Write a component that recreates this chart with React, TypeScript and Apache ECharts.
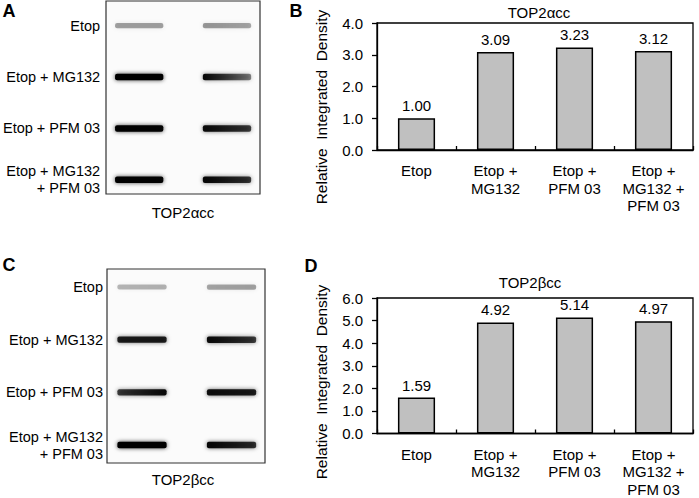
import React, { useEffect, useRef } from "react";
import * as echarts from "echarts";

// ---------- data ----------
const blotRows = ["Etop", "Etop + MG132", "Etop + PFM 03", "Etop + MG132\n+ PFM 03"];
const barCategories = ["Etop", "Etop +\nMG132", "Etop +\nPFM 03", "Etop +\nMG132 +\nPFM 03"];

// band intensities [left end, right end] (0 = blank, 1 = black)
const blotALane1 = [[0.34, 0.34], [1.0, 1.0], [1.0, 0.97], [1.0, 0.97]];
const blotALane2 = [[0.38, 0.32], [0.97, 0.45], [0.95, 0.7], [0.97, 0.72]];
const blotCLane1 = [[0.26, 0.28], [0.85, 0.85], [0.7, 0.95], [1.0, 1.0]];
const blotCLane2 = [[0.32, 0.34], [0.95, 0.7], [0.92, 0.85], [0.97, 0.75]];

const top2aValues = [1.0, 3.09, 3.23, 3.12];
const top2bValues = [1.59, 4.92, 5.14, 4.97];

const top2aAxisMax = 4;
const top2bAxisMax = 6;

const FONT = "Liberation Sans, Arial, Helvetica, sans-serif";

function bandData(l1: number[][], l2: number[][]) {
  return [
    ...l1.map((v, i) => [0, i, v[0], v[1]]),
    ...l2.map((v, i) => [1, i, v[0], v[1]]),
  ];
}

function bandRender(params: any, api: any) {
  const c = api.coord([api.value(0), api.value(1)]);
  const w = api.size([0.55, 0])[0];
  const a1 = api.value(2);
  const a2 = api.value(3);
  const h = 4.5 + 2 * Math.max(a1, a2);
  const am = (a1 + a2) / 2;
  return {
    type: "rect",
    shape: { x: c[0] - w / 2, y: c[1] - h / 2, width: w, height: h, r: 2 },
    style: {
      fill: {
        type: "linear",
        x: 0,
        y: 0,
        x2: 1,
        y2: 0,
        colorStops: [
          { offset: 0, color: `rgba(0,0,0,${a1})` },
          { offset: 0.5, color: `rgba(0,0,0,${am})` },
          { offset: 1, color: `rgba(0,0,0,${a2})` },
        ],
      },
      shadowBlur: 4,
      shadowColor: `rgba(0,0,0,${am * 0.75})`,
    },
  };
}

function barXAxis(gridIndex: number) {
  return {
    type: "category",
    gridIndex,
    data: barCategories,
    axisLine: { lineStyle: { color: "#000", width: 1.3 } },
    axisTick: { show: true, inside: true, length: 4, lineStyle: { color: "#000", width: 1.3 } },
    axisLabel: { interval: 0, margin: 12, fontSize: 15, lineHeight: 17.5, color: "#000", fontFamily: FONT },
    splitLine: { show: false },
  };
}

function barYAxis(gridIndex: number, max: number) {
  return {
    type: "value",
    gridIndex,
    min: 0,
    max,
    interval: 1,
    axisLine: { show: true, lineStyle: { color: "#000", width: 1.3 } },
    axisTick: { show: true, length: 5, lineStyle: { color: "#000", width: 1.3 } },
    axisLabel: { margin: 14, fontSize: 15, color: "#000", fontFamily: FONT, formatter: (v: number) => v.toFixed(1) },
    splitLine: { show: false },
  };
}

function blotYAxis(gridIndex: number, margin: number) {
  return {
    type: "category",
    gridIndex,
    data: blotRows,
    inverse: true,
    axisLine: { show: false },
    axisTick: { show: false },
    splitLine: { show: false },
    axisLabel: { margin, fontSize: 14.5, lineHeight: 17, color: "#000", fontFamily: FONT },
  };
}

function barSeries(idx: number, values: number[]) {
  return {
    type: "bar",
    xAxisIndex: idx,
    yAxisIndex: idx,
    data: values,
    barWidth: "47%",
    itemStyle: { color: "#c0c0c0", borderColor: "#000", borderWidth: 1.5 },
    label: {
      show: true,
      position: "top",
      distance: 5,
      fontSize: 15,
      color: "#000",
      fontFamily: FONT,
      formatter: (p: any) => Number(p.value).toFixed(2),
    },
  };
}

function txt(text: string, x: number, y: number, size: number, extra: any = {}) {
  return {
    type: "text",
    x,
    y,
    z: 10,
    ...extra,
    style: {
      text,
      fontSize: size,
      fontFamily: FONT,
      fill: "#000",
      align: "center",
      verticalAlign: "middle",
      ...(extra.style || {}),
    },
  };
}

export default function App() {
  const ref = useRef<HTMLDivElement>(null);
  useEffect(() => {
    const chart = echarts.init(ref.current!, null, { renderer: "svg" });
    const option: any = {
      animation: false,
      backgroundColor: "#fff",
      textStyle: { fontFamily: FONT },
      grid: [
        { left: 106, top: -9, width: 154, height: 214.5 },
        { left: 377, top: 23, width: 316, height: 127, show: true, borderColor: "#000", borderWidth: 1.3 },
        { left: 107, top: 260.7, width: 158, height: 210.7 },
        { left: 377, top: 298, width: 316, height: 138, show: true, borderColor: "#000", borderWidth: 1.3 },
      ],
      xAxis: [
        { type: "value", gridIndex: 0, min: -0.354, max: 1.376, show: false },
        barXAxis(1),
        { type: "value", gridIndex: 2, min: -0.391, max: 1.374, show: false },
        barXAxis(3),
      ],
      yAxis: [blotYAxis(0, 8), barYAxis(1, top2aAxisMax), blotYAxis(2, 4), barYAxis(3, top2bAxisMax)],
      series: [
        { type: "custom", xAxisIndex: 0, yAxisIndex: 0, data: bandData(blotALane1, blotALane2), renderItem: bandRender, clip: false },
        barSeries(1, top2aValues),
        { type: "custom", xAxisIndex: 2, yAxisIndex: 2, data: bandData(blotCLane1, blotCLane2), renderItem: bandRender, clip: false },
        barSeries(3, top2bValues),
      ],
      graphic: [
        {
          type: "rect",
          z: -10,
          shape: { x: 106, y: 1, width: 154, height: 193 },
          style: { fill: "#fbfbfb", stroke: "#333", lineWidth: 1.2 },
        },
        {
          type: "rect",
          z: -10,
          shape: { x: 107, y: 269, width: 158, height: 194 },
          style: { fill: "#fbfbfb", stroke: "#333", lineWidth: 1.2 },
        },
        txt("A", 9, 11, 18, { style: { fontWeight: "bold" } }),
        txt("B", 296, 10.5, 18, { style: { fontWeight: "bold" } }),
        txt("C", 9, 265, 18, { style: { fontWeight: "bold" } }),
        txt("D", 311, 266, 18, { style: { fontWeight: "bold" } }),
        txt("TOP2αcc", 183, 212, 15),
        txt("TOP2βcc", 183, 479, 15),
        txt("TOP2αcc", 539, 12, 15),
        txt("TOP2βcc", 530, 282, 15),
        txt("Relative  Integrated  Density", 321, 107, 15.5, { rotation: Math.PI / 2 }),
        txt("Relative  Integrated  Density", 321, 382, 15.5, { rotation: Math.PI / 2 }),
      ],
    };
    chart.setOption(option);
    return () => chart.dispose();
  }, []);
  return (
    <div
      ref={ref}
      style={{ position: "fixed", left: 0, top: 0, width: 699, height: 498, background: "#fff" }}
    />
  );
}
